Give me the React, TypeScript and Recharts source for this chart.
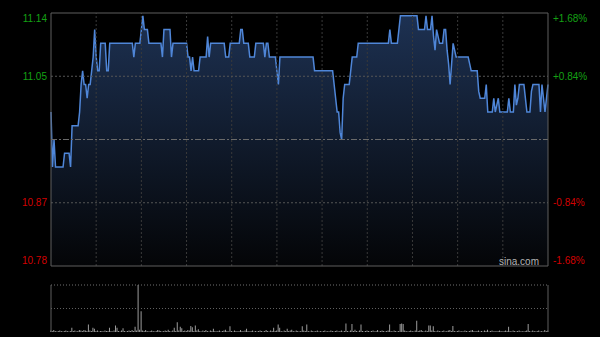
import React from 'react';
import { AreaChart, Area, BarChart, Bar, XAxis, YAxis, ReferenceLine } from 'recharts';

// intraday quote, one point per minute (09:30-12:00, 13:00-16:00)
const prevClose = 10.96;
const pctLevels = [-1.68, -0.84, 0.84, 1.68];
const timeGrid = [30, 60, 90, 120, 150, 180, 210, 240, 270, 300];

const p0930 = [11.00, 10.92, 10.96, 10.92, 10.92, 10.92, 10.92, 10.92, 10.92, 10.94,
  10.94, 10.94, 10.94, 10.92, 10.98, 10.98, 10.98, 10.98, 10.98, 11.00,
  11.04, 11.06, 11.04, 11.04, 11.02, 11.04, 11.04, 11.06, 11.08, 11.12];
const p1000 = [11.08, 11.06, 11.06, 11.10, 11.10, 11.10, 11.10, 11.06, 11.06, 11.10,
  11.10, 11.10, 11.10, 11.10, 11.10, 11.10, 11.10, 11.10, 11.10, 11.10,
  11.10, 11.10, 11.10, 11.10, 11.10, 11.08, 11.10, 11.10, 11.10, 11.10];
const p1030 = [11.12, 11.14, 11.12, 11.12, 11.12, 11.10, 11.10, 11.10, 11.10, 11.10,
  11.10, 11.10, 11.10, 11.10, 11.08, 11.12, 11.12, 11.12, 11.12, 11.12,
  11.08, 11.10, 11.10, 11.10, 11.10, 11.10, 11.10, 11.10, 11.10, 11.10];
const p1100 = [11.10, 11.08, 11.08, 11.06, 11.08, 11.06, 11.06, 11.06, 11.06, 11.08,
  11.08, 11.08, 11.08, 11.08, 11.11, 11.08, 11.10, 11.10, 11.10, 11.10,
  11.10, 11.10, 11.10, 11.10, 11.10, 11.10, 11.08, 11.08, 11.08, 11.10];
const p1130 = [11.10, 11.10, 11.10, 11.10, 11.10, 11.10, 11.12, 11.12, 11.10, 11.10,
  11.10, 11.10, 11.08, 11.08, 11.08, 11.08, 11.10, 11.10, 11.10, 11.10,
  11.10, 11.10, 11.08, 11.10, 11.10, 11.08, 11.08, 11.08, 11.08, 11.08];
const p1300 = [11.06, 11.04, 11.08, 11.08, 11.08, 11.08, 11.08, 11.08, 11.08, 11.08,
  11.08, 11.08, 11.08, 11.08, 11.08, 11.08, 11.08, 11.08, 11.08, 11.08,
  11.08, 11.08, 11.08, 11.08, 11.08, 11.06, 11.06, 11.06, 11.06, 11.06];
const p1330 = [11.06, 11.06, 11.06, 11.06, 11.06, 11.06, 11.06, 11.06, 11.04, 11.02,
  11.00, 11.00, 10.97, 10.96, 11.02, 11.04, 11.04, 11.04, 11.04, 11.06,
  11.08, 11.08, 11.08, 11.08, 11.10, 11.10, 11.10, 11.10, 11.10, 11.10];
const p1400 = [11.10, 11.10, 11.10, 11.10, 11.10, 11.10, 11.10, 11.10, 11.10, 11.10,
  11.10, 11.10, 11.10, 11.10, 11.10, 11.12, 11.10, 11.10, 11.10, 11.10,
  11.10, 11.12, 11.14, 11.14, 11.14, 11.14, 11.14, 11.14, 11.14, 11.14];
const p1430 = [11.14, 11.14, 11.14, 11.14, 11.12, 11.12, 11.12, 11.12, 11.12, 11.14,
  11.12, 11.12, 11.12, 11.14, 11.11, 11.09, 11.12, 11.11, 11.10, 11.10,
  11.10, 11.12, 11.12, 11.09, 11.07, 11.04, 11.07, 11.10, 11.09, 11.08];
const p1500 = [11.08, 11.08, 11.08, 11.08, 11.08, 11.08, 11.08, 11.08, 11.07, 11.06,
  11.06, 11.06, 11.06, 11.06, 11.03, 11.02, 11.02, 11.02, 11.02, 11.04,
  11.00, 11.00, 11.00, 11.00, 11.02, 11.00, 11.01, 11.02, 11.00, 11.00];
const p1530 = [11.00, 11.00, 11.00, 11.00, 11.02, 11.00, 11.00, 11.00, 11.04, 11.01,
  11.02, 11.04, 11.04, 11.04, 11.04, 11.02, 11.00, 11.00, 11.00, 11.03,
  11.04, 11.04, 11.04, 11.04, 11.04, 11.00, 11.04, 11.02, 11.00, 11.02, 11.04];

const v0930 = [3, 2, 4, 2, 1, 2, 3, 2, 1, 2, 3, 2, 1, 2, 9, 2, 3, 1, 2, 4, 3, 2, 4, 3, 2, 16, 3, 2, 9, 7];
const v1000 = [2, 3, 1, 2, 2, 1, 3, 2, 2, 9, 2, 1, 3, 14, 9, 2, 1, 3, 8, 2, 1, 2, 3, 2, 4, 2, 11, 3, 100, 5];
const v1030 = [44, 3, 2, 4, 2, 1, 2, 3, 2, 1, 2, 4, 3, 2, 1, 2, 3, 2, 5, 2, 1, 3, 9, 2, 21, 3, 11, 8, 2, 3];
const v1100 = [2, 4, 3, 13, 10, 2, 14, 3, 6, 2, 1, 3, 2, 4, 2, 1, 3, 2, 7, 2, 1, 2, 3, 1, 2, 3, 5, 2, 1, 12];
const v1130 = [2, 1, 3, 2, 1, 2, 4, 2, 1, 3, 7, 2, 1, 2, 3, 1, 2, 1, 2, 3, 2, 1, 2, 4, 2, 1, 3, 2, 9, 2];
const v1300 = [3, 16, 9, 2, 1, 3, 2, 7, 2, 3, 5, 2, 1, 3, 2, 1, 2, 12, 3, 2, 16, 2, 1, 3, 2, 1, 2, 3, 1, 2];
const v1330 = [1, 2, 3, 1, 2, 1, 3, 2, 1, 2, 3, 1, 2, 3, 1, 2, 18, 2, 1, 3, 17, 2, 5, 2, 1, 3, 16, 2, 1, 2];
const v1400 = [3, 2, 1, 2, 3, 1, 2, 4, 1, 2, 3, 2, 1, 2, 3, 16, 2, 1, 3, 2, 1, 2, 17, 18, 17, 3, 2, 1, 2, 3];
const v1430 = [2, 1, 3, 24, 2, 3, 4, 2, 1, 3, 2, 14, 14, 3, 12, 2, 1, 3, 2, 1, 2, 3, 1, 2, 3, 4, 2, 13, 2, 1];
const v1500 = [2, 3, 1, 2, 1, 3, 2, 1, 2, 3, 4, 2, 1, 2, 3, 1, 2, 1, 3, 2, 5, 1, 2, 3, 1, 2, 1, 2, 3, 2];
const v1530 = [1, 2, 3, 2, 11, 2, 1, 3, 2, 1, 2, 3, 1, 2, 1, 2, 3, 17, 2, 1, 3, 2, 1, 2, 3, 1, 2, 1, 4, 2, 3];

const prices = [...p0930, ...p1000, ...p1030, ...p1100, ...p1130, ...p1300, ...p1330, ...p1400, ...p1430, ...p1500, ...p1530];
const volumes = [...v0930, ...v1000, ...v1030, ...v1100, ...v1130, ...v1300, ...v1330, ...v1400, ...v1430, ...v1500, ...v1530];

const data = prices.map((price, i) => ({ i, price, vol: volumes[i] }));
const lastIdx = prices.length - 1;

const yMin = prevClose * (1 - 0.0168);
const yMax = prevClose * (1 + 0.0168);
const levelTicks = pctLevels.map(p => prevClose * (1 + p / 100));

const FONT = '"Liberation Sans", Arial, sans-serif';
const GREEN = '#14a014';
const RED = '#d20000';
const FRAME = '#5e5e5e';

function tickDy(v: number) {
  if (v > yMax - 1e-6) return 9;
  if (v < yMin + 1e-6) return -2;
  return 3.5;
}

const LeftTick = (props: any) => {
  const { x, y, payload } = props;
  const v = payload.value as number;
  return (
    <text x={x} y={y} dy={tickDy(v)} textAnchor="end" fontSize={10} fontFamily={FONT} fill={v > prevClose ? GREEN : RED}>
      {v.toFixed(2)}
    </text>
  );
};

const RightTick = (props: any) => {
  const { x, y, payload } = props;
  const v = payload.value as number;
  const pct = (v / prevClose - 1) * 100;
  return (
    <text x={x} y={y} dy={tickDy(v)} textAnchor="start" fontSize={10} fontFamily={FONT} fill={pct > 0 ? GREEN : RED}>
      {(pct > 0 ? '+' : '') + pct.toFixed(2) + '%'}
    </text>
  );
};

export default function App() {
  return (
    <div style={{ position: 'absolute', left: 0, top: 0, width: 600, height: 337, background: '#000', overflow: 'hidden' }}>
      <div style={{ position: 'absolute', left: 0, top: 0 }}>
        <AreaChart width={600} height={280} data={data} margin={{ top: 13, right: 0, bottom: 14, left: 0 }}>
          <defs>
            <linearGradient id="pfill" x1="0" y1="0" x2="0" y2="1">
              <stop offset="0%" stopColor="#1d3152" stopOpacity={1} />
              <stop offset="100%" stopColor="#040507" stopOpacity={1} />
            </linearGradient>
          </defs>
          <XAxis dataKey="i" type="number" domain={[0, lastIdx]} hide />
          <YAxis
            yAxisId="p"
            orientation="left"
            width={51}
            domain={[yMin, yMax]}
            ticks={levelTicks}
            axisLine={false}
            tickLine={false}
            tickSize={0}
            tickMargin={4}
            tick={<LeftTick />}
            allowDataOverflow
          />
          <YAxis
            yAxisId="r"
            orientation="right"
            width={52}
            domain={[yMin, yMax]}
            ticks={levelTicks}
            axisLine={false}
            tickLine={false}
            tickSize={0}
            tickMargin={5}
            tick={<RightTick />}
            allowDataOverflow
          />
          <Area
            yAxisId="p"
            type="linear"
            dataKey="price"
            stroke="#4f86d8"
            strokeWidth={1.5}
            fill="url(#pfill)"
            fillOpacity={1}
            dot={false}
            activeDot={false}
            isAnimationActive={false}
          />
          {timeGrid.map(t => (
            <ReferenceLine key={'t' + t} yAxisId="p" x={t} stroke="#3a3a3a" strokeDasharray="2 2" />
          ))}
          {levelTicks.slice(1, 3).map(v => (
            <ReferenceLine key={'l' + v} yAxisId="p" y={v} stroke="#555" strokeDasharray="2 2" />
          ))}
          <ReferenceLine yAxisId="p" y={prevClose} stroke="#6a6a6a" strokeDasharray="6 2 2 2" />
          <ReferenceLine yAxisId="p" y={yMax} stroke={FRAME} />
          <ReferenceLine yAxisId="p" y={yMin} stroke={FRAME} />
          <ReferenceLine yAxisId="p" x={0} stroke={FRAME} />
          <ReferenceLine yAxisId="p" x={lastIdx} stroke={FRAME} />
        </AreaChart>
      </div>
      <div style={{ position: 'absolute', left: 499, top: 256, fontFamily: FONT, fontSize: 10, color: '#b4b4b4', lineHeight: '12px' }}>
        sina.com
      </div>
      <div style={{ position: 'absolute', left: 0, top: 282 }}>
        <BarChart width={600} height={55} data={data} margin={{ top: 3, right: 52, bottom: 5, left: 51 }}>
          <XAxis dataKey="i" type="number" domain={[0, lastIdx]} hide />
          <YAxis domain={[0, 100]} hide />
          <ReferenceLine y={100} stroke="#707070" strokeDasharray="1 2" />
          <ReferenceLine y={50} stroke="#606060" strokeDasharray="1 2" />
          <ReferenceLine x={0} stroke={FRAME} />
          <ReferenceLine x={lastIdx} stroke={FRAME} />
          <Bar dataKey="vol" fill="#9c9c9c" barSize={1} isAnimationActive={false} />
        </BarChart>
      </div>
    </div>
  );
}
